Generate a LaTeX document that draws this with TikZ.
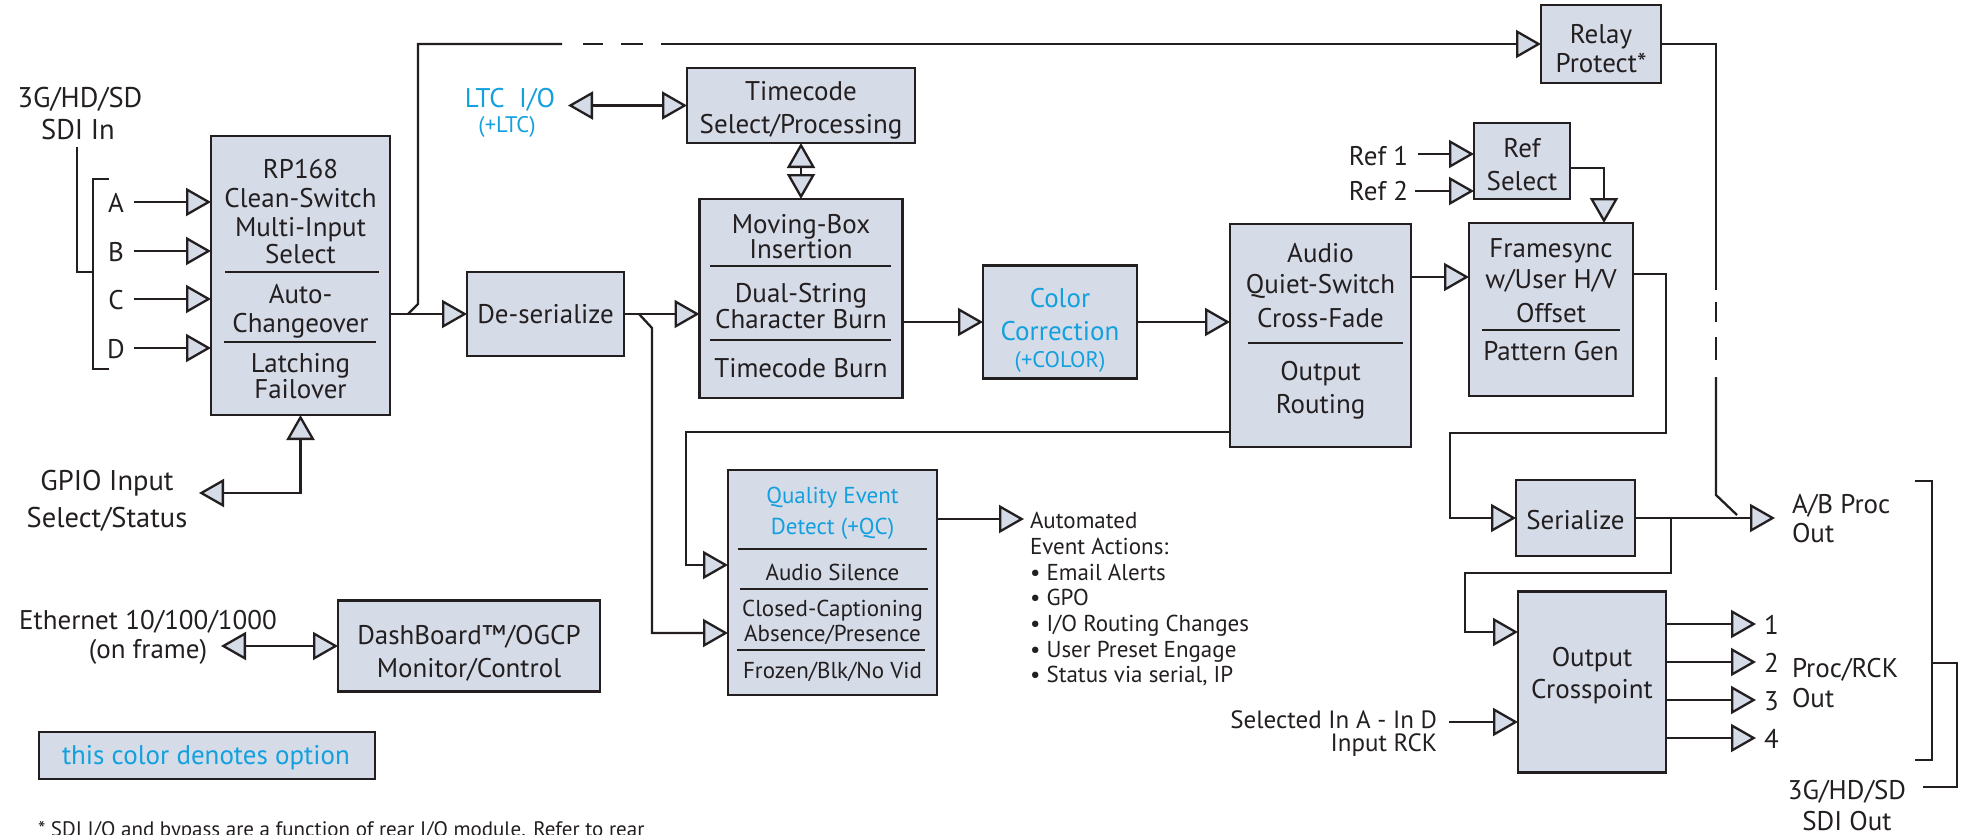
\documentclass[tikz,border=0pt]{standalone}
\usepackage{fontspec}
\setmainfont{PT Sans}
\usetikzlibrary{arrows.meta}
\definecolor{boxfill}{RGB}{213,219,231}
\definecolor{linec}{RGB}{35,31,32}
\definecolor{optblue}{RGB}{18,160,222}
\tikzset{
  box/.style={draw=linec, fill=boxfill, line width=2.6pt, inner sep=0pt, outer sep=0pt},
  conn/.style={draw=linec, line width=2.3pt},
  sepl/.style={draw=linec, line width=2.6pt},
  thinsep/.style={draw=linec, line width=1.3pt},
  tx/.style={inner sep=0pt, outer sep=0pt, anchor=base, text=linec, font=\fontsize{27}{30}\selectfont},
  txl/.style={tx, font=\fontsize{28.5}{32}\selectfont},
  txs/.style={tx, font=\fontsize{23}{26}\selectfont},
  txm/.style={tx, font=\fontsize{25}{28}\selectfont},
  txo/.style={tx, text=optblue, font=\fontsize{22.5}{25}\selectfont},
  blue/.style={text=optblue},
  >={Triangle[length=25pt,width=28pt,fill=boxfill]},
}
\begin{document}
\begin{tikzpicture}[x=1pt,y=-1pt]
\path[use as bounding box] (0,0) rectangle (1965,835);
\fill[white] (0,0) rectangle (1965,835);
\clip (0,0) rectangle (1965,835);

% ---------- boxes ----------
\node[box, minimum width=179pt, minimum height=279pt] (rp) at (300.5,275.5) {};
\node[box, minimum width=157pt, minimum height=84pt] (des) at (545.5,314) {};
\node[box, minimum width=228pt, minimum height=75pt] (tc) at (801,105.5) {};
\node[box, minimum width=203pt, minimum height=199pt] (mb) at (801,298.5) {};
\node[box, minimum width=154pt, minimum height=113pt] (cc) at (1060,322) {};
\node[box, minimum width=181pt, minimum height=223pt] (au) at (1320.5,335.5) {};
\node[box, minimum width=96pt, minimum height=76pt] (rs) at (1522,161) {};
\node[box, minimum width=164pt, minimum height=173pt] (fs) at (1551,309.5) {};
\node[box, minimum width=120pt, minimum height=78pt] (rl) at (1601,44) {};
\node[box, minimum width=119pt, minimum height=76pt] (ser) at (1575.5,518) {};
\node[box, minimum width=148pt, minimum height=181pt] (xp) at (1592,682) {};
\node[box, minimum width=209pt, minimum height=225pt] (qc) at (832.5,582.5) {};
\node[box, minimum width=262pt, minimum height=91pt] (db) at (469,646) {};
\node[box, minimum width=336pt, minimum height=47pt] (lg) at (207,755.5) {};

% ---------- separators ----------
\draw[sepl] (225,272) -- (379,272);
\draw[sepl] (224,342) -- (376,342);
\draw[sepl] (710,266) -- (891,266);
\draw[sepl] (710,340) -- (891,340);
\draw[sepl] (1248,343) -- (1403,343);
\draw[thinsep] (1482,330) -- (1620,330);
\draw[sepl] (738,549) -- (927,549);
\draw[sepl] (740,589) -- (928,589);
\draw[sepl] (737,650) -- (925,650);

% ---------- texts in boxes ----------
\node[tx] (rp1) at (300.5,178) {RP168};
\node[tx] (rp2) at (300.5,207) {Clean-Switch};
\node[tx] (rp3) at (300.5,236) {Multi-Input};
\node[tx] (rp4) at (300.5,263) {Select};
\node[tx] (rp5) at (300.5,303) {Auto-};
\node[tx] (rp6) at (300.5,332) {Changeover};
\node[tx] (rp7) at (300.5,372) {Latching};
\node[tx] (rp8) at (300.5,398) {Failover};

\node[tx] (des1) at (545.5,323) {De-serialize};

\node[tx] (tc1) at (801,100) {Timecode};
\node[tx] (tc2) at (801,133) {Select/Processing};

\node[tx] (mb1) at (801,233) {Moving-Box};
\node[tx] (mb2) at (801,258) {Insertion};
\node[tx] (mb3) at (801,302) {Dual-String};
\node[tx] (mb4) at (801,328) {Character Burn};
\node[tx] (mb5) at (801,377) {Timecode Burn};

\node[tx,blue] (cc1) at (1060,307) {Color};
\node[tx,blue] (cc2) at (1060,340) {Correction};
\node[txo] (cc3) at (1060,367) {(+COLOR)};

\node[tx] (au1) at (1320.5,262) {Audio};
\node[tx] (au2) at (1320.5,293) {Quiet-Switch};
\node[tx] (au3) at (1320.5,327) {Cross-Fade};
\node[tx] (au4) at (1320.5,380) {Output};
\node[tx] (au5) at (1320.5,413) {Routing};

\node[tx] (rs1) at (1522,157) {Ref};
\node[tx] (rs2) at (1522,190) {Select};

\node[tx] (fs1) at (1551,257) {Framesync};
\node[tx] (fs2) at (1551,288) {w/User H/V};
\node[tx] (fs3) at (1551,322) {Offset};
\node[tx] (fs4) at (1551,360) {Pattern Gen};

\node[tx] (rl1) at (1601,43) {Relay};
\node[tx] (rl2) at (1601,72) {Protect*};

\node[tx] (ser1) at (1575.5,529) {Serialize};

\node[tx] (xp1) at (1592,666) {Output};
\node[tx] (xp2) at (1592,698) {Crosspoint};

\node[txs,blue] (qc1) at (832.5,503) {Quality Event};
\node[txs,blue] (qc2) at (832.5,534) {Detect (+QC)};
\node[txs] (qc3) at (832.5,580) {Audio Silence};
\node[txs] (qc4) at (832.5,616) {Closed-Captioning};
\node[txs] (qc5) at (832.5,641) {Absence/Presence};
\node[txs] (qc6) at (832.5,678) {Frozen/Blk/No Vid};

\node[tx] (db1) at (469,644) {DashBoard™/OGCP};
\node[tx] (db2) at (469,677) {Monitor/Control};

\node[tx,blue,anchor=base west] (lg1) at (62,764) {this color denotes option};

% ---------- free texts ----------
\node[txl] (sdi1) at (80,107) {3G/HD/SD};
\node[txl] (sdi2) at (78,139) {SDI In};
\node[tx] (la) at (116,212) {A};
\node[tx] (lb) at (116,261) {B};
\node[tx] (lc) at (116,309) {C};
\node[tx] (ld) at (116,358) {D};

\node[tx,blue] (ltc1) at (510,107) {LTC~~I/O};
\node[txo] (ltc2) at (507,132) {(+LTC)};

\node[txl] (gp1) at (107,490) {GPIO Input};
\node[txl] (gp2) at (107,527) {Select/Status};

\node[tx] (et1) at (148,629) {Ethernet 10/100/1000};
\node[tx] (et2) at (148,658) {(on frame)};

\node[tx,anchor=base east] (ref1) at (1408,165) {Ref 1};
\node[tx,anchor=base east] (ref2) at (1408,200) {Ref 2};

\node[txs,anchor=base west] (ev1) at (1030,528) {Automated};
\node[txs,anchor=base west] (ev2) at (1030,554) {Event Actions:};
\node[txs,anchor=base west] (ev3) at (1030,580) {• Email Alerts};
\node[txs,anchor=base west] (ev4) at (1030,605) {• GPO};
\node[txs,anchor=base west] (ev5) at (1030,631) {• I/O Routing Changes};
\node[txs,anchor=base west] (ev6) at (1030,657) {• User Preset Engage};
\node[txs,anchor=base west] (ev7) at (1030,682) {• Status via serial, IP};

\node[tx,anchor=base west] (ab1) at (1792,513) {A/B Proc};
\node[tx,anchor=base west] (ab2) at (1792,542) {Out};
\node[tx,anchor=base west] (pr1) at (1792,677) {Proc/RCK};
\node[tx,anchor=base west] (pr2) at (1792,707) {Out};
\node[tx,anchor=base west] (n1) at (1764,634) {1};
\node[tx,anchor=base west] (n2) at (1764,672) {2};
\node[tx,anchor=base west] (n3) at (1764,710) {3};
\node[tx,anchor=base west] (n4) at (1764,748) {4};

\node[txm,anchor=base east] (sel1) at (1437,728) {Selected In A - In D};
\node[txm,anchor=base east] (sel2) at (1437,751) {Input RCK};

\node[tx] (so1) at (1847,799) {3G/HD/SD};
\node[tx] (so2) at (1847,830) {SDI Out};

\node[tx,anchor=base west,font=\fontsize{21}{24}\selectfont] (foot) at (38,836) {* SDI I/O and bypass are a function of rear I/O module. Refer to rear};

% ---------- connectors ----------
% SDI inputs
\draw[conn] (77,147) -- (77,272) -- (93,272);
\draw[conn] (109,179) -- (93,179) -- (93,369) -- (109,369);
\coordinate (ia) at (134,202);
\coordinate (ib) at (134,251);
\coordinate (ic) at (134,299);
\coordinate (id) at (134,348);
\draw[conn,->] (ia) -- (ia -| rp.west);
\draw[conn,->] (ib) -- (ib -| rp.west);
\draw[conn,->] (ic) -- (ic -| rp.west);
\draw[conn,->] (id) -- (id -| rp.west);

% RP168 -> De-serialize, branch to relay
\draw[conn,->] (rp.east |- des.west) -- (des.west);
\draw[conn] (408,314) -- (418,304) -- (418,44) -- (562,44);
\draw[conn] (583,44) -- (603,44);
\draw[conn] (621,44) -- (643,44);
\coordinate (rla) at (661,44);
\draw[conn,->] (rla) -- (rla -| rl.west);

% LTC
\coordinate (ltce) at (568,105.5);
\draw[conn,<->] (ltce) -- (tc.west);
\draw[conn,<->] (tc.south) -- (mb.north);

% De-serialize -> Moving box, branch to QC
\draw[conn,->] (des.east) -- (des.east -| mb.west);
\coordinate (k1) at (652,633);
\draw[conn,->] (639,314) -- (652,328) -- (k1) -- (k1 -| qc.west);

% chain
\draw[conn,->] (mb.east |- cc.west) -- (cc.west);
\draw[conn,->] (cc.east) -- (cc.east -| au.west);
\coordinate (af) at (1411,277);
\draw[conn,->] (af -| au.east) -- (af -| fs.west);

% refs
\coordinate (r1) at (1418,154);
\coordinate (r2) at (1415,191);
\draw[conn,->] (r1) -- (r1 -| rs.west);
\draw[conn,->] (r2) -- (r2 -| rs.west);
\coordinate (rsf) at (1604,168);
\draw[conn,->] (rsf -| rs.east) -- (rsf) -- (rsf |- fs.north);

% framesync -> serialize
\coordinate (fso) at (1666,274);
\draw[conn,->] (fso -| fs.east) -- (fso) -- (1666,433) -- (1450,433) -- (1450,518) -- (ser.west);

% audio feedback -> QC
\coordinate (fb) at (686,432);
\coordinate (fb2) at (686,565);
\draw[conn,->] (fb -| au.west) -- (fb) -- (fb2) -- (fb2 -| qc.west);

% QC -> events
\coordinate (ev) at (1024,519);
\draw[conn,->] (ev -| qc.east) -- (ev);

% relay output
\draw[conn] (rl.east) -- (1716,44) -- (1716,290);
\draw[conn] (1716,302) -- (1716,322);
\draw[conn] (1716,337) -- (1716,360);
\draw[conn] (1716,377) -- (1716,495) -- (1737,515);

% serialize -> A/B out, branch to crosspoint
\coordinate (abo) at (1775,518);
\draw[conn,->] (ser.east) -- (abo);
\coordinate (xpi) at (1465,632);
\draw[conn,->] (1671,518) -- (1671,573) -- (1465,573) -- (xpi) -- (xpi -| xp.west);
\coordinate (sel) at (1449,722);
\draw[conn,->] (sel) -- (sel -| xp.west);
\coordinate (o1) at (1756,624);
\coordinate (o2) at (1756,662);
\coordinate (o3) at (1756,700);
\coordinate (o4) at (1756,738);
\draw[conn,->] (o1 -| xp.east) -- (o1);
\draw[conn,->] (o2 -| xp.east) -- (o2);
\draw[conn,->] (o3 -| xp.east) -- (o3);
\draw[conn,->] (o4 -| xp.east) -- (o4);

% right bracket
\draw[conn] (1915,481) -- (1932,481) -- (1932,760) -- (1915,760);
\draw[conn] (1932,663) -- (1957,663) -- (1957,787) -- (1923,787);

% GPIO and Ethernet
\coordinate (gp) at (199,493);
\draw[conn,<->] (gp) -- (gp -| rp.south) -- (rp.south);
\coordinate (et) at (221,646);
\draw[conn,<->] (et) -- (et -| db.west);
\end{tikzpicture}
\end{document}
